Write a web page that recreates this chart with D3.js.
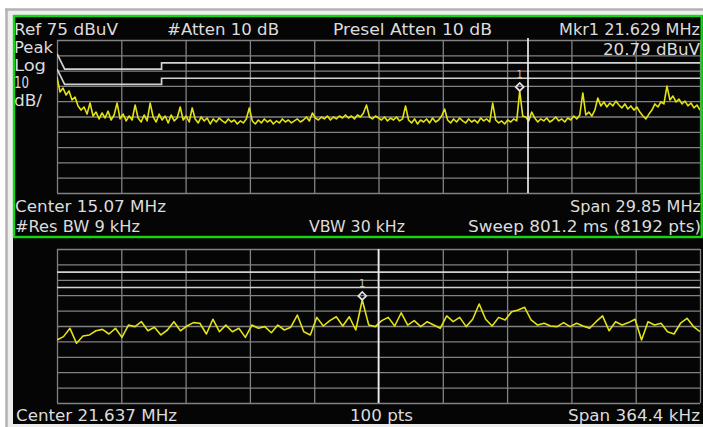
<!DOCTYPE html>
<html><head><meta charset="utf-8">
<script src="https://cdn.jsdelivr.net/npm/d3@7"></script>
<style>html,body{margin:0;padding:0;background:#fff;}svg{display:block;}</style>
</head><body>
<svg id="c" width="703" height="427"></svg>
<script>
// ---------- data ----------
const refLevel = 75, dbPerDiv = 10, divisions = 10;
const topCenterMHz = 15.07, topSpanMHz = 29.85;
const lowerCenterMHz = 21.637, lowerSpanMHz = 0.3644;

// top sweep (dBuV), evenly spaced over span
const topTrace = [
 50.8,41.0,43.6,39.1,41.7,35.8,37.7,31.9,29.2,31.2,
 26.6,33.8,25.3,27.9,23.4,27.3,24.0,28.5,22.7,26.0,
 33.8,23.4,26.6,22.1,25.3,22.7,32.5,24.0,21.4,26.0,
 22.1,33.8,24.7,21.4,26.6,22.7,25.3,20.8,26.0,22.1,
 24.0,31.2,22.7,25.3,21.4,30.6,23.4,20.8,24.7,22.1,
 24.0,20.1,23.4,21.4,24.0,22.1,20.8,23.4,21.4,22.7,
 20.1,22.1,20.8,23.4,30.6,22.1,20.1,22.7,20.8,23.4,
 21.4,22.7,20.1,22.1,20.8,23.4,21.4,22.7,20.8,22.1,
 23.4,21.4,22.7,24.7,22.1,27.3,24.0,22.7,24.7,23.4,
 25.3,22.7,24.7,23.4,25.3,24.0,26.0,24.0,25.3,23.4,
 26.0,24.7,27.3,32.5,24.7,23.4,25.3,24.0,22.7,24.7,
 22.1,24.0,22.7,24.7,22.1,23.4,31.9,22.7,20.8,23.4,
 20.1,22.7,21.4,23.4,20.8,24.0,21.4,22.7,25.3,29.9,
 22.7,20.8,23.4,21.4,24.0,22.1,20.8,23.4,21.4,22.7,
 20.8,24.0,22.1,23.4,21.4,33.8,22.7,20.8,22.1,20.1,
 22.7,21.4,23.4,22.1,41.7,25.3,24.7,22.1,27.9,24.0,
 21.4,23.4,22.1,24.0,21.4,22.7,24.7,22.1,23.4,21.4,
 24.0,22.7,25.3,23.4,26.0,40.4,26.0,27.9,25.3,29.2,
 37.1,31.9,34.5,31.2,33.8,31.9,35.1,32.5,30.6,33.2,
 29.9,31.9,29.2,31.2,27.9,25.3,23.4,26.6,29.2,33.2,
 31.2,34.5,33.2,44.9,35.8,38.4,34.5,36.4,33.2,35.1,
 31.9,33.8,30.6,32.5,29.2
];
// lower (zoomed) sweep, 100 pts
const lowerTrace = [
 15.9,18.1,23.5,13.8,18.5,19.2,21.9,22.8,19.8,23.5,
 17.6,25.6,24.6,27.8,21.9,24.2,19.2,22.4,27.8,21.9,
 25.0,27.2,26.8,19.8,29.4,21.3,25.6,21.3,23.5,17.6,
 25.6,23.5,24.6,20.6,25.6,22.4,24.2,32.1,21.3,19.2,
 30.6,25.0,28.5,31.0,25.0,31.0,22.4,41.9,25.6,24.6,
 28.5,30.6,25.0,33.6,25.6,28.5,24.6,27.8,25.6,23.5,
 31.6,27.8,30.6,24.6,29.4,39.3,29.4,25.0,30.6,28.9,
 34.3,35.4,37.1,28.9,25.6,26.8,25.0,24.6,27.2,24.6,
 26.8,25.0,23.5,27.8,31.6,21.9,27.8,25.6,27.2,29.4,
 15.9,27.8,25.6,26.8,21.3,19.8,26.8,30.0,24.6,21.3
];
// limit lines (MHz, dBuV)
const limitQP  = [[0.15,66],[0.5,56],[5,56],[5,60],[30,60]];
const limitAvg = [[0.15,56],[0.5,46],[5,46],[5,50],[30,50]];
const lowerLimits = [60, 50];
const topMarkerIndex = 154;
const lowerMarkerIndex = 47;
const topDisplayLineMHz = 22.01;

// text labels
const topHeader = ["Ref 75 dBuV", "#Atten 10 dB", "Presel Atten 10 dB", "Mkr1 21.629 MHz"];
const markerReadout = "20.79 dBuV";
const scaleLabels = ["Peak", "Log", "10", "dB/"];
const topFooter1 = ["Center 15.07 MHz", "Span 29.85 MHz"];
const topFooter2 = ["#Res BW 9 kHz", "VBW 30 kHz", "Sweep 801.2 ms (8192 pts)"];
const lowerFooter = ["Center 21.637 MHz", "100 pts", "Span 364.4 kHz"];

// ---------- drawing ----------
const svg = d3.select("#c");
const FONT = "'DejaVu Sans Condensed','DejaVu Sans',sans-serif";
const TXT = "#dcdcdc";

svg.append("rect").attr("width",703).attr("height",427).attr("fill","#ffffff");
svg.append("rect").attr("x",6).attr("y",9).attr("width",697).attr("height",418).attr("fill","#ededed");
svg.append("line").attr("x1",5).attr("x2",703).attr("y1",9.5).attr("y2",9.5).attr("stroke","#b2b2b2").attr("stroke-width",2.5);
svg.append("line").attr("x1",6.5).attr("x2",6.5).attr("y1",9).attr("y2",427).attr("stroke","#b2b2b2").attr("stroke-width",2.5);
svg.append("rect").attr("x",13).attr("y",15).attr("width",690).attr("height",409).attr("fill","#050505");

function drawPanel(g, o) {
  const x = d3.scaleLinear().domain([o.f0, o.f1]).range([o.x0, o.x1]);
  const y = d3.scaleLinear().domain([refLevel - dbPerDiv*divisions, refLevel]).range([o.y1, o.y0]);
  const xt = d3.range(divisions+1).map(i => o.f0 + i*(o.f1-o.f0)/divisions);
  const yt = d3.range(divisions+1).map(i => refLevel - i*dbPerDiv);
  const clipId = "clip" + o.id;
  g.append("clipPath").attr("id", clipId).append("rect")
    .attr("x", o.x0).attr("y", o.y0).attr("width", o.x1-o.x0).attr("height", o.y1-o.y0);

  const gx = g.append("g").attr("transform", `translate(0,${o.y1})`)
    .call(d3.axisBottom(x).tickValues(xt).tickSize(-(o.y1-o.y0)).tickFormat(""));
  const gy = g.append("g").attr("transform", `translate(${o.x0},0)`)
    .call(d3.axisLeft(y).tickValues(yt).tickSize(-(o.x1-o.x0)).tickFormat(""));
  [gx, gy].forEach(a => {
    a.select(".domain").remove();
    a.selectAll(".tick line").attr("stroke","#828282").attr("stroke-width",1.3);
  });

  const cg = g.append("g").attr("clip-path", `url(#${clipId})`);
  const line = d3.line().x(d => x(d[0])).y(d => y(d[1]));
  o.limits.forEach(L => {
    cg.append("path").attr("d", line(L)).attr("fill","none")
      .attr("stroke","#d2d2d2").attr("stroke-width",1.7);
  });
  if (o.vline != null) {
    g.append("line").attr("x1", x(o.vline)).attr("x2", x(o.vline))
      .attr("y1", o.vy0).attr("y2", o.y1).attr("stroke","#ececec").attr("stroke-width",1.7);
  }
  const n = o.trace.length;
  const pts = o.trace.map((v,i) => [o.f0 + i*(o.f1-o.f0)/(n-1), v]);
  cg.append("path").attr("d", line(pts)).attr("fill","none")
    .attr("stroke","#e2e214").attr("stroke-width",1.6).attr("stroke-linejoin","round");

  const m = pts[o.markerIndex];
  const mx = x(m[0]), my = y(m[1]);
  const r = 4;
  g.append("path").attr("d", `M${mx},${my} L${mx+r},${my-r} L${mx},${my-2*r} L${mx-r},${my-r} Z`)
    .attr("fill","none").attr("stroke","#e6e6e6").attr("stroke-width",1.7);
  g.append("text").attr("x", mx).attr("y", my - 2*r - 5).attr("text-anchor","middle")
    .attr("font-family", FONT).attr("font-size", 11).attr("fill","#c4c4c4").text("1");
}

function txt(x0, base, s, len) {
  svg.append("text").attr("x", x0).attr("y", base).attr("font-family", FONT)
    .attr("font-size", 16).attr("fill", TXT)
    .attr("textLength", len).attr("lengthAdjust","spacingAndGlyphs").text(s);
}

const lf0 = lowerCenterMHz - lowerSpanMHz/2, lf1 = lowerCenterMHz + lowerSpanMHz/2;

drawPanel(svg.append("g"), {id:"t", f0: topCenterMHz - topSpanMHz/2, f1: topCenterMHz + topSpanMHz/2,
  x0:57, x1:700, y0:40, y1:193, trace: topTrace, limits:[limitQP, limitAvg],
  markerIndex: topMarkerIndex, vline: topDisplayLineMHz, vy0: 38});

drawPanel(svg.append("g"), {id:"l", f0: lf0, f1: lf1,
  x0:57, x1:700, y0:249, y1:403, trace: lowerTrace,
  limits: lowerLimits.map(v => [[lf0, v],[lf1, v]]),
  markerIndex: lowerMarkerIndex, vline: lowerCenterMHz, vy0: 249});

// texts
txt(14, 35, topHeader[0], 104);
txt(167, 35, topHeader[1], 112);
txt(333, 35, topHeader[2], 159);
txt(559, 35, topHeader[3], 141);
txt(603, 55, markerReadout, 97);
txt(14, 53, scaleLabels[0], 39);
txt(14, 70.5, scaleLabels[1], 32);
txt(14, 88, scaleLabels[2], 15);
txt(14, 106, scaleLabels[3], 28);
txt(15, 211.5, topFooter1[0], 151);
txt(570, 211.5, topFooter1[1], 131);
txt(15, 232, topFooter2[0], 125);
txt(309, 232, topFooter2[1], 96);
txt(468, 232, topFooter2[2], 233);
txt(16, 421, lowerFooter[0], 161);
txt(350, 421, lowerFooter[1], 63);
txt(568, 421, lowerFooter[2], 132);

// green frame of active window
svg.append("rect").attr("x",14).attr("y",16).attr("width",687.7).attr("height",221)
  .attr("fill","none").attr("stroke","#12d812").attr("stroke-width",2.4);
</script>
</body></html>
